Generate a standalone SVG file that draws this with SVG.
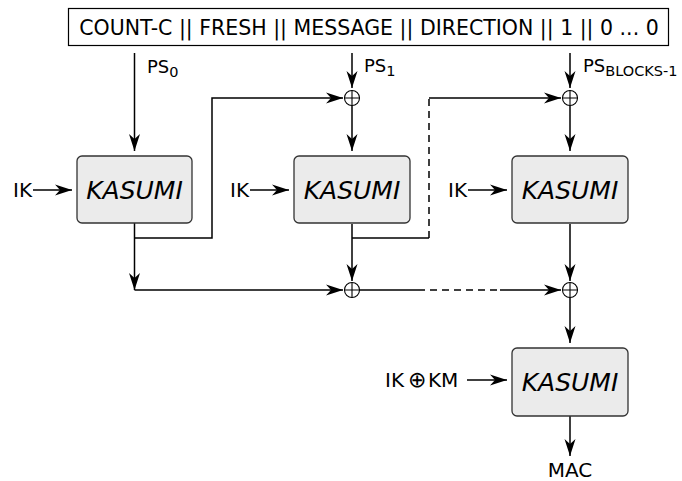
<svg xmlns="http://www.w3.org/2000/svg" width="682" height="481" viewBox="0 0 682 481">
<style>
text{font-family:"DejaVu Sans","Liberation Sans",sans-serif;fill:#000}
.lbl{font-size:20px}
.ps{font-size:18px}
.k{font-size:25px;font-style:italic;text-anchor:middle}
.box{fill:#ebebeb;stroke:#333;stroke-width:1.3}
.ln{fill:none;stroke:#000;stroke-width:1.5}
.ln.a{marker-end:url(#ah)}
.dash{stroke-dasharray:7,5}
.x{fill:#fff;stroke:#000;stroke-width:1.1}
</style>
<defs>
<marker id="ah" markerUnits="userSpaceOnUse" viewBox="-18 -6.5 19 13" refX="0" refY="0" markerWidth="19" markerHeight="13" orient="auto">
<path d="M0,0 L-17,-5.5 L-12,0 L-17,5.5 Z" fill="#000"/>
</marker>
</defs>
<rect x="0" y="0" width="682" height="481" fill="#fff"/>
<g id="input">
<rect x="68.5" y="8.5" width="600" height="37" fill="#fff" stroke="#000" stroke-width="1.2"/>
<text x="369" y="34.5" font-size="20.5" text-anchor="middle">COUNT-C || FRESH || MESSAGE || DIRECTION || 1 || 0 ... 0</text>
</g>
<g id="connectors">
<path class="ln a" d="M134.5,53 V151"/>
<path class="ln a" d="M352,53 V88"/>
<path class="ln a" d="M570,53 V88"/>
<path class="ln a" d="M134.5,238 H212 V98 H343"/>
<path class="ln a" d="M134.5,223 V290"/>
<path class="ln a" d="M134.5,290 H343"/>
<path class="ln a" d="M352,105.5 V151"/>
<path class="ln a" d="M352,224 V281"/>
<path class="ln" d="M352,238 H429"/>
<path class="ln dash" d="M429,238 V98"/>
<path class="ln a" d="M429,98 H561"/>
<path class="ln a" d="M570,105.5 V151"/>
<path class="ln a" d="M570,224 V281"/>
<path class="ln" d="M359.5,290 H418"/>
<path class="ln dash" d="M418,290 H500"/>
<path class="ln a" d="M500,290 H561"/>
<path class="ln a" d="M570,297.5 V343"/>
<path class="ln a" d="M570,416 V456"/>
<path class="ln a" d="M33,190 H72"/>
<path class="ln a" d="M250,190 H289"/>
<path class="ln a" d="M468,190 H507"/>
<path class="ln a" d="M467,380 H507"/>
</g>
<g id="ps-labels">
<text class="ps" x="147" y="73">PS<tspan font-size="14.5" dy="4">0</tspan></text>
<text class="ps" x="364" y="72">PS<tspan font-size="14.5" dy="4">1</tspan></text>
<text class="ps" x="583" y="72">PS<tspan font-size="14.5" dy="4">BLOCKS-1</tspan></text>
</g>
<g id="xor1"><circle class="x" cx="352" cy="98" r="7.5"/><path class="x" d="M344.5,98 H359.5 M352,90.5 V105.5"/></g>
<g id="xor2"><circle class="x" cx="570" cy="98" r="7.5"/><path class="x" d="M562.5,98 H577.5 M570,90.5 V105.5"/></g>
<g id="xor3"><circle class="x" cx="352" cy="290" r="7.5"/><path class="x" d="M344.5,290 H359.5 M352,282.5 V297.5"/></g>
<g id="xor4"><circle class="x" cx="570" cy="290" r="7.5"/><path class="x" d="M562.5,290 H577.5 M570,282.5 V297.5"/></g>
<g id="kasumi1"><rect class="box" x="77" y="156" width="115" height="67" rx="5"/><text class="k" x="134.5" y="199">KASUMI</text></g>
<g id="kasumi2"><rect class="box" x="294" y="156" width="116" height="67" rx="5"/><text class="k" x="352" y="199">KASUMI</text></g>
<g id="kasumi3"><rect class="box" x="512" y="156" width="116" height="67" rx="5"/><text class="k" x="570" y="199">KASUMI</text></g>
<g id="kasumi4"><rect class="box" x="512" y="348" width="116" height="68" rx="5"/><text class="k" x="570" y="391">KASUMI</text></g>
<g id="ik1"><text class="lbl" x="13" y="197">IK</text></g>
<g id="ik2"><text class="lbl" x="230" y="197">IK</text></g>
<g id="ik3"><text class="lbl" x="448" y="197">IK</text></g>
<g id="ikkm"><text class="lbl" x="385" y="387">IK<tspan x="408" font-size="22">⊕</tspan><tspan x="428">KM</tspan></text></g>
<g id="mac"><text class="lbl" x="570" y="477" text-anchor="middle">MAC</text></g>
</svg>
